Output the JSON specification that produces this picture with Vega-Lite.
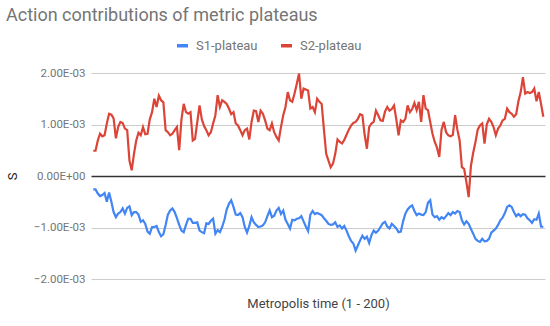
{
  "$schema": "https://vega.github.io/schema/vega-lite/v6.json",
  "width": 454,
  "height": 206,
  "autosize": {"type": "none"},
  "padding": {"left": 91, "top": 73, "right": 5, "bottom": 47},
  "background": "#ffffff",
  "config": {
    "font": "Roboto",
    "view": {"stroke": null}
  },
  "title": {
    "text": "Action contributions of metric plateaus",
    "anchor": "start",
    "frame": "group",
    "fontSize": 18,
    "fontWeight": "normal",
    "color": "#757575",
    "dx": -85,
    "offset": 13
  },
  "data": {
    "values": [
      {"t":1,"S1-plateau":-0.00026,"S2-plateau":0.00049},
      {"t":2,"S1-plateau":-0.00026,"S2-plateau":0.00049},
      {"t":3,"S1-plateau":-0.00034,"S2-plateau":0.00069},
      {"t":4,"S1-plateau":-0.00039,"S2-plateau":0.00082},
      {"t":5,"S1-plateau":-0.00037,"S2-plateau":0.00077},
      {"t":6,"S1-plateau":-0.00033,"S2-plateau":0.00079},
      {"t":7,"S1-plateau":-0.00050,"S2-plateau":0.00102},
      {"t":8,"S1-plateau":-0.00032,"S2-plateau":0.00121},
      {"t":9,"S1-plateau":-0.00050,"S2-plateau":0.00119},
      {"t":10,"S1-plateau":-0.00070,"S2-plateau":0.00112},
      {"t":11,"S1-plateau":-0.00080,"S2-plateau":0.00073},
      {"t":12,"S1-plateau":-0.00073,"S2-plateau":0.00095},
      {"t":13,"S1-plateau":-0.00070,"S2-plateau":0.00105},
      {"t":14,"S1-plateau":-0.00063,"S2-plateau":0.00103},
      {"t":15,"S1-plateau":-0.00073,"S2-plateau":0.00092},
      {"t":16,"S1-plateau":-0.00062,"S2-plateau":0.00089},
      {"t":17,"S1-plateau":-0.00059,"S2-plateau":0.00030},
      {"t":18,"S1-plateau":-0.00076,"S2-plateau":0.00011},
      {"t":19,"S1-plateau":-0.00070,"S2-plateau":0.00043},
      {"t":20,"S1-plateau":-0.00070,"S2-plateau":0.00069},
      {"t":21,"S1-plateau":-0.00075,"S2-plateau":0.00084},
      {"t":22,"S1-plateau":-0.00089,"S2-plateau":0.00079},
      {"t":23,"S1-plateau":-0.00086,"S2-plateau":0.00095},
      {"t":24,"S1-plateau":-0.00093,"S2-plateau":0.00081},
      {"t":25,"S1-plateau":-0.00108,"S2-plateau":0.00082},
      {"t":26,"S1-plateau":-0.00112,"S2-plateau":0.00110},
      {"t":27,"S1-plateau":-0.00099,"S2-plateau":0.00124},
      {"t":28,"S1-plateau":-0.00099,"S2-plateau":0.00150},
      {"t":29,"S1-plateau":-0.00097,"S2-plateau":0.00134},
      {"t":30,"S1-plateau":-0.00109,"S2-plateau":0.00156},
      {"t":31,"S1-plateau":-0.00117,"S2-plateau":0.00147},
      {"t":32,"S1-plateau":-0.00113,"S2-plateau":0.00143},
      {"t":33,"S1-plateau":-0.00095,"S2-plateau":0.00089},
      {"t":34,"S1-plateau":-0.00075,"S2-plateau":0.00085},
      {"t":35,"S1-plateau":-0.00067,"S2-plateau":0.00079},
      {"t":36,"S1-plateau":-0.00063,"S2-plateau":0.00082},
      {"t":37,"S1-plateau":-0.00070,"S2-plateau":0.00089},
      {"t":38,"S1-plateau":-0.00082,"S2-plateau":0.00095},
      {"t":39,"S1-plateau":-0.00095,"S2-plateau":0.00050},
      {"t":40,"S1-plateau":-0.00106,"S2-plateau":0.00110},
      {"t":41,"S1-plateau":-0.00109,"S2-plateau":0.00140},
      {"t":42,"S1-plateau":-0.00095,"S2-plateau":0.00124},
      {"t":43,"S1-plateau":-0.00083,"S2-plateau":0.00121},
      {"t":44,"S1-plateau":-0.00083,"S2-plateau":0.00124},
      {"t":45,"S1-plateau":-0.00091,"S2-plateau":0.00069},
      {"t":46,"S1-plateau":-0.00091,"S2-plateau":0.00072},
      {"t":47,"S1-plateau":-0.00090,"S2-plateau":0.00105},
      {"t":48,"S1-plateau":-0.00106,"S2-plateau":0.00137},
      {"t":49,"S1-plateau":-0.00109,"S2-plateau":0.00110},
      {"t":50,"S1-plateau":-0.00111,"S2-plateau":0.00097},
      {"t":51,"S1-plateau":-0.00092,"S2-plateau":0.00089},
      {"t":52,"S1-plateau":-0.00093,"S2-plateau":0.00079},
      {"t":53,"S1-plateau":-0.00087,"S2-plateau":0.00085},
      {"t":54,"S1-plateau":-0.00083,"S2-plateau":0.00102},
      {"t":55,"S1-plateau":-0.00112,"S2-plateau":0.00118},
      {"t":56,"S1-plateau":-0.00105,"S2-plateau":0.00157},
      {"t":57,"S1-plateau":-0.00109,"S2-plateau":0.00134},
      {"t":58,"S1-plateau":-0.00099,"S2-plateau":0.00147},
      {"t":59,"S1-plateau":-0.00085,"S2-plateau":0.00144},
      {"t":60,"S1-plateau":-0.00065,"S2-plateau":0.00140},
      {"t":61,"S1-plateau":-0.00054,"S2-plateau":0.00131},
      {"t":62,"S1-plateau":-0.00047,"S2-plateau":0.00120},
      {"t":63,"S1-plateau":-0.00060,"S2-plateau":0.00124},
      {"t":64,"S1-plateau":-0.00075,"S2-plateau":0.00102},
      {"t":65,"S1-plateau":-0.00076,"S2-plateau":0.00098},
      {"t":66,"S1-plateau":-0.00072,"S2-plateau":0.00089},
      {"t":67,"S1-plateau":-0.00080,"S2-plateau":0.00079},
      {"t":68,"S1-plateau":-0.00099,"S2-plateau":0.00089},
      {"t":69,"S1-plateau":-0.00110,"S2-plateau":0.00092},
      {"t":70,"S1-plateau":-0.00097,"S2-plateau":0.00071},
      {"t":71,"S1-plateau":-0.00080,"S2-plateau":0.00105},
      {"t":72,"S1-plateau":-0.00090,"S2-plateau":0.00127},
      {"t":73,"S1-plateau":-0.00095,"S2-plateau":0.00126},
      {"t":74,"S1-plateau":-0.00099,"S2-plateau":0.00105},
      {"t":75,"S1-plateau":-0.00098,"S2-plateau":0.00127},
      {"t":76,"S1-plateau":-0.00096,"S2-plateau":0.00121},
      {"t":77,"S1-plateau":-0.00090,"S2-plateau":0.00108},
      {"t":78,"S1-plateau":-0.00078,"S2-plateau":0.00092},
      {"t":79,"S1-plateau":-0.00067,"S2-plateau":0.00089},
      {"t":80,"S1-plateau":-0.00080,"S2-plateau":0.00102},
      {"t":81,"S1-plateau":-0.00077,"S2-plateau":0.00085},
      {"t":82,"S1-plateau":-0.00067,"S2-plateau":0.00076},
      {"t":83,"S1-plateau":-0.00062,"S2-plateau":0.00069},
      {"t":84,"S1-plateau":-0.00074,"S2-plateau":0.00095},
      {"t":85,"S1-plateau":-0.00067,"S2-plateau":0.00118},
      {"t":86,"S1-plateau":-0.00085,"S2-plateau":0.00134},
      {"t":87,"S1-plateau":-0.00093,"S2-plateau":0.00163},
      {"t":88,"S1-plateau":-0.00102,"S2-plateau":0.00147},
      {"t":89,"S1-plateau":-0.00085,"S2-plateau":0.00144},
      {"t":90,"S1-plateau":-0.00086,"S2-plateau":0.00160},
      {"t":91,"S1-plateau":-0.00083,"S2-plateau":0.00179},
      {"t":92,"S1-plateau":-0.00082,"S2-plateau":0.00199},
      {"t":93,"S1-plateau":-0.00078,"S2-plateau":0.00150},
      {"t":94,"S1-plateau":-0.00088,"S2-plateau":0.00170},
      {"t":95,"S1-plateau":-0.00098,"S2-plateau":0.00168},
      {"t":96,"S1-plateau":-0.00107,"S2-plateau":0.00166},
      {"t":97,"S1-plateau":-0.00075,"S2-plateau":0.00131},
      {"t":98,"S1-plateau":-0.00068,"S2-plateau":0.00134},
      {"t":99,"S1-plateau":-0.00074,"S2-plateau":0.00124},
      {"t":100,"S1-plateau":-0.00072,"S2-plateau":0.00150},
      {"t":101,"S1-plateau":-0.00074,"S2-plateau":0.00144},
      {"t":102,"S1-plateau":-0.00076,"S2-plateau":0.00140},
      {"t":103,"S1-plateau":-0.00082,"S2-plateau":0.00090},
      {"t":104,"S1-plateau":-0.00087,"S2-plateau":0.00043},
      {"t":105,"S1-plateau":-0.00093,"S2-plateau":0.00030},
      {"t":106,"S1-plateau":-0.00095,"S2-plateau":0.00017},
      {"t":107,"S1-plateau":-0.00094,"S2-plateau":0.00024},
      {"t":108,"S1-plateau":-0.00090,"S2-plateau":0.00043},
      {"t":109,"S1-plateau":-0.00099,"S2-plateau":0.00071},
      {"t":110,"S1-plateau":-0.00096,"S2-plateau":0.00066},
      {"t":111,"S1-plateau":-0.00102,"S2-plateau":0.00063},
      {"t":112,"S1-plateau":-0.00097,"S2-plateau":0.00070},
      {"t":113,"S1-plateau":-0.00106,"S2-plateau":0.00080},
      {"t":114,"S1-plateau":-0.00117,"S2-plateau":0.00090},
      {"t":115,"S1-plateau":-0.00126,"S2-plateau":0.00098},
      {"t":116,"S1-plateau":-0.00131,"S2-plateau":0.00103},
      {"t":117,"S1-plateau":-0.00145,"S2-plateau":0.00105},
      {"t":118,"S1-plateau":-0.00135,"S2-plateau":0.00111},
      {"t":119,"S1-plateau":-0.00125,"S2-plateau":0.00120},
      {"t":120,"S1-plateau":-0.00116,"S2-plateau":0.00118},
      {"t":121,"S1-plateau":-0.00122,"S2-plateau":0.00080},
      {"t":122,"S1-plateau":-0.00118,"S2-plateau":0.00053},
      {"t":123,"S1-plateau":-0.00130,"S2-plateau":0.00095},
      {"t":124,"S1-plateau":-0.00115,"S2-plateau":0.00102},
      {"t":125,"S1-plateau":-0.00106,"S2-plateau":0.00105},
      {"t":126,"S1-plateau":-0.00110,"S2-plateau":0.00127},
      {"t":127,"S1-plateau":-0.00106,"S2-plateau":0.00118},
      {"t":128,"S1-plateau":-0.00099,"S2-plateau":0.00108},
      {"t":129,"S1-plateau":-0.00092,"S2-plateau":0.00107},
      {"t":130,"S1-plateau":-0.00089,"S2-plateau":0.00125},
      {"t":131,"S1-plateau":-0.00098,"S2-plateau":0.00134},
      {"t":132,"S1-plateau":-0.00102,"S2-plateau":0.00127},
      {"t":133,"S1-plateau":-0.00093,"S2-plateau":0.00130},
      {"t":134,"S1-plateau":-0.00097,"S2-plateau":0.00137},
      {"t":135,"S1-plateau":-0.00102,"S2-plateau":0.00110},
      {"t":136,"S1-plateau":-0.00109,"S2-plateau":0.00079},
      {"t":137,"S1-plateau":-0.00108,"S2-plateau":0.00108},
      {"t":138,"S1-plateau":-0.00088,"S2-plateau":0.00105},
      {"t":139,"S1-plateau":-0.00073,"S2-plateau":0.00111},
      {"t":140,"S1-plateau":-0.00065,"S2-plateau":0.00137},
      {"t":141,"S1-plateau":-0.00060,"S2-plateau":0.00124},
      {"t":142,"S1-plateau":-0.00057,"S2-plateau":0.00130},
      {"t":143,"S1-plateau":-0.00068,"S2-plateau":0.00142},
      {"t":144,"S1-plateau":-0.00076,"S2-plateau":0.00128},
      {"t":145,"S1-plateau":-0.00073,"S2-plateau":0.00144},
      {"t":146,"S1-plateau":-0.00075,"S2-plateau":0.00105},
      {"t":147,"S1-plateau":-0.00076,"S2-plateau":0.00157},
      {"t":148,"S1-plateau":-0.00070,"S2-plateau":0.00131},
      {"t":149,"S1-plateau":-0.00052,"S2-plateau":0.00128},
      {"t":150,"S1-plateau":-0.00047,"S2-plateau":0.00105},
      {"t":151,"S1-plateau":-0.00075,"S2-plateau":0.00082},
      {"t":152,"S1-plateau":-0.00080,"S2-plateau":0.00066},
      {"t":153,"S1-plateau":-0.00078,"S2-plateau":0.00055},
      {"t":154,"S1-plateau":-0.00085,"S2-plateau":0.00037},
      {"t":155,"S1-plateau":-0.00080,"S2-plateau":0.00090},
      {"t":156,"S1-plateau":-0.00083,"S2-plateau":0.00105},
      {"t":157,"S1-plateau":-0.00078,"S2-plateau":0.00085},
      {"t":158,"S1-plateau":-0.00072,"S2-plateau":0.00079},
      {"t":159,"S1-plateau":-0.00076,"S2-plateau":0.00077},
      {"t":160,"S1-plateau":-0.00070,"S2-plateau":0.00080},
      {"t":161,"S1-plateau":-0.00073,"S2-plateau":0.00118},
      {"t":162,"S1-plateau":-0.00068,"S2-plateau":0.00090},
      {"t":163,"S1-plateau":-0.00070,"S2-plateau":0.00069},
      {"t":164,"S1-plateau":-0.00086,"S2-plateau":0.00017},
      {"t":165,"S1-plateau":-0.00094,"S2-plateau":0.00014},
      {"t":166,"S1-plateau":-0.00088,"S2-plateau":-0.00012},
      {"t":167,"S1-plateau":-0.00093,"S2-plateau":-0.00041},
      {"t":168,"S1-plateau":-0.00103,"S2-plateau":0.00020},
      {"t":169,"S1-plateau":-0.00112,"S2-plateau":0.00045},
      {"t":170,"S1-plateau":-0.00122,"S2-plateau":0.00066},
      {"t":171,"S1-plateau":-0.00126,"S2-plateau":0.00090},
      {"t":172,"S1-plateau":-0.00128,"S2-plateau":0.00098},
      {"t":173,"S1-plateau":-0.00122,"S2-plateau":0.00102},
      {"t":174,"S1-plateau":-0.00127,"S2-plateau":0.00063},
      {"t":175,"S1-plateau":-0.00126,"S2-plateau":0.00100},
      {"t":176,"S1-plateau":-0.00122,"S2-plateau":0.00111},
      {"t":177,"S1-plateau":-0.00110,"S2-plateau":0.00105},
      {"t":178,"S1-plateau":-0.00106,"S2-plateau":0.00095},
      {"t":179,"S1-plateau":-0.00102,"S2-plateau":0.00079},
      {"t":180,"S1-plateau":-0.00095,"S2-plateau":0.00092},
      {"t":181,"S1-plateau":-0.00086,"S2-plateau":0.00098},
      {"t":182,"S1-plateau":-0.00081,"S2-plateau":0.00108},
      {"t":183,"S1-plateau":-0.00072,"S2-plateau":0.00111},
      {"t":184,"S1-plateau":-0.00060,"S2-plateau":0.00131},
      {"t":185,"S1-plateau":-0.00057,"S2-plateau":0.00124},
      {"t":186,"S1-plateau":-0.00060,"S2-plateau":0.00121},
      {"t":187,"S1-plateau":-0.00070,"S2-plateau":0.00115},
      {"t":188,"S1-plateau":-0.00078,"S2-plateau":0.00120},
      {"t":189,"S1-plateau":-0.00074,"S2-plateau":0.00145},
      {"t":190,"S1-plateau":-0.00078,"S2-plateau":0.00163},
      {"t":191,"S1-plateau":-0.00074,"S2-plateau":0.00192},
      {"t":192,"S1-plateau":-0.00075,"S2-plateau":0.00160},
      {"t":193,"S1-plateau":-0.00082,"S2-plateau":0.00163},
      {"t":194,"S1-plateau":-0.00086,"S2-plateau":0.00161},
      {"t":195,"S1-plateau":-0.00091,"S2-plateau":0.00163},
      {"t":196,"S1-plateau":-0.00084,"S2-plateau":0.00170},
      {"t":197,"S1-plateau":-0.00085,"S2-plateau":0.00145},
      {"t":198,"S1-plateau":-0.00073,"S2-plateau":0.00163},
      {"t":199,"S1-plateau":-0.00098,"S2-plateau":0.00140},
      {"t":200,"S1-plateau":-0.00099,"S2-plateau":0.00115}
    ]
  },
  "transform": [
    {"fold": ["S1-plateau", "S2-plateau"], "as": ["series", "S"]}
  ],
  "mark": {"type": "line", "strokeWidth": 2.2, "interpolate": "linear"},
  "encoding": {
    "x": {
      "field": "t",
      "type": "quantitative",
      "scale": {"domain": [0, 200.75], "nice": false, "zero": false},
      "axis": {
        "title": "Metropolis time (1 - 200)",
        "labels": false,
        "ticks": false,
        "domain": false,
        "grid": false,
        "titleFont": "Roboto",
        "titleFontSize": 13,
        "titleFontWeight": "normal",
        "titleColor": "#444444",
        "titlePadding": 18
      }
    },
    "y": {
      "field": "S",
      "type": "quantitative",
      "scale": {"domain": [-0.002, 0.002], "nice": false},
      "axis": {
        "title": "S",
        "values": [-0.002, -0.001, 0, 0.001, 0.002],
        "labelExpr": "datum.value == 0 ? '0.00E+00' : format(datum.value * 1000, '.2f') + 'E-03'",
        "ticks": false,
        "domain": false,
        "labelPadding": 6,
        "labelFont": "Roboto",
        "labelFontSize": 11.5,
        "labelColor": "#757575",
        "gridColor": {"condition": {"test": "datum.value === 0", "value": "#333333"}, "value": "#cccccc"},
        "gridWidth": {"condition": {"test": "datum.value === 0", "value": 1.5}, "value": 1},
        "titleFont": "Roboto",
        "titleFontSize": 13,
        "titleFontWeight": "normal",
        "titleColor": "#222222",
        "titleX": -79,
        "titleY": 103,
        "titleAngle": -90,
        "titleAlign": "center",
        "titleBaseline": "middle"
      }
    },
    "color": {
      "field": "series",
      "type": "nominal",
      "scale": {"domain": ["S1-plateau", "S2-plateau"], "range": ["#4285F4", "#DB4437"]},
      "legend": {
        "title": null,
        "orient": "none",
        "direction": "horizontal",
        "legendX": 84,
        "legendY": -35,
        "symbolType": "stroke",
        "symbolStrokeWidth": 3.5,
        "symbolSize": 120,
        "labelFont": "Roboto",
        "labelFontSize": 13,
        "labelColor": "#757575",
        "labelOffset": 6,
        "columnPadding": 16
      }
    }
  }
}
